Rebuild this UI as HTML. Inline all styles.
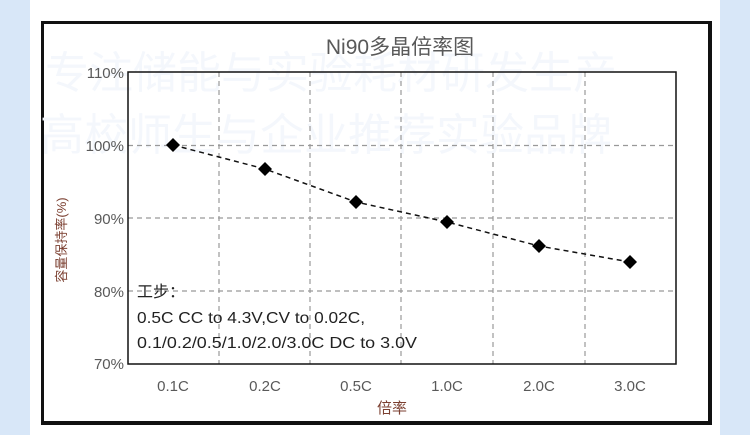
<!DOCTYPE html>
<html><head><meta charset="utf-8"><style>
body{margin:0;width:750px;height:435px;background:#d8e7f8;font-family:"Liberation Sans","Noto Sans CJK SC",sans-serif;overflow:hidden;position:relative}
.panel{position:absolute;left:30px;top:0;width:690px;height:435px;background:#fff}
.box{position:absolute;left:41px;top:21px;width:671px;height:404px;border:3px solid #111;border-right-width:4px;border-bottom-width:4px;box-sizing:border-box}
</style></head><body>
<div class="panel"></div>
<div class="box"></div>
<svg width="750" height="435" style="position:absolute;left:0;top:0">
<g font-family="Liberation Sans, Noto Sans CJK SC, sans-serif" font-size="44" fill="#f4f7fc">
<text x="45" y="88">专注储能与实验耗材研发生产</text>
<text x="40" y="150">高校师生与企业推荐实验品牌</text>
</g>
<g stroke="#999" stroke-width="1.2" stroke-dasharray="5,4" fill="none">
<line x1="128" y1="145.5" x2="676" y2="145.5"/>
<line x1="128" y1="218" x2="676" y2="218"/>
<line x1="128" y1="291" x2="676" y2="291"/>
<line x1="219" y1="72" x2="219" y2="364"/>
<line x1="310" y1="72" x2="310" y2="364"/>
<line x1="401" y1="72" x2="401" y2="364"/>
<line x1="493" y1="72" x2="493" y2="364"/>
<line x1="585" y1="72" x2="585" y2="364"/>
</g>
<rect x="128" y="72" width="548" height="292" fill="none" stroke="#111" stroke-width="1.5"/>
<polyline points="173,145 265,169 356,202 447,222 539,246 630,262" fill="none" stroke="#111" stroke-width="1.5" stroke-dasharray="5,4"/>
<g fill="#000">
<path d="M173,138l7,7-7,7-7-7z"/><path d="M265,162l7,7-7,7-7-7z"/><path d="M356,195l7,7-7,7-7-7z"/>
<path d="M447,215l7,7-7,7-7-7z"/><path d="M539,239l7,7-7,7-7-7z"/><path d="M630,255l7,7-7,7-7-7z"/>
</g>
<g font-size="15" fill="#595959" text-anchor="end">
<text x="124" y="78">110%</text><text x="124" y="151">100%</text><text x="124" y="224">90%</text><text x="124" y="297">80%</text><text x="124" y="369">70%</text>
</g>
<g font-size="15" fill="#595959" text-anchor="middle">
<text x="173" y="391">0.1C</text><text x="265" y="391">0.2C</text><text x="356" y="391">0.5C</text><text x="447" y="391">1.0C</text><text x="539" y="391">2.0C</text><text x="630" y="391">3.0C</text>
</g>
<text x="400" y="54" font-size="21" fill="#595959" text-anchor="middle">Ni90多晶倍率图</text>
<text x="392" y="413" font-size="15" fill="#7b3f30" text-anchor="middle">倍率</text>
<text transform="translate(66,240) rotate(-90)" font-size="13" fill="#7b3f30" text-anchor="middle">容量保持率(%)</text>
<g font-size="16" fill="#222">
<text x="137" y="297">工步：</text>
<text x="137" y="323" textLength="228" lengthAdjust="spacingAndGlyphs">0.5C CC to 4.3V,CV to 0.02C,</text>
<text x="137" y="348" textLength="280" lengthAdjust="spacingAndGlyphs">0.1/0.2/0.5/1.0/2.0/3.0C DC to 3.0V</text>
</g>
</svg>
</body></html>
